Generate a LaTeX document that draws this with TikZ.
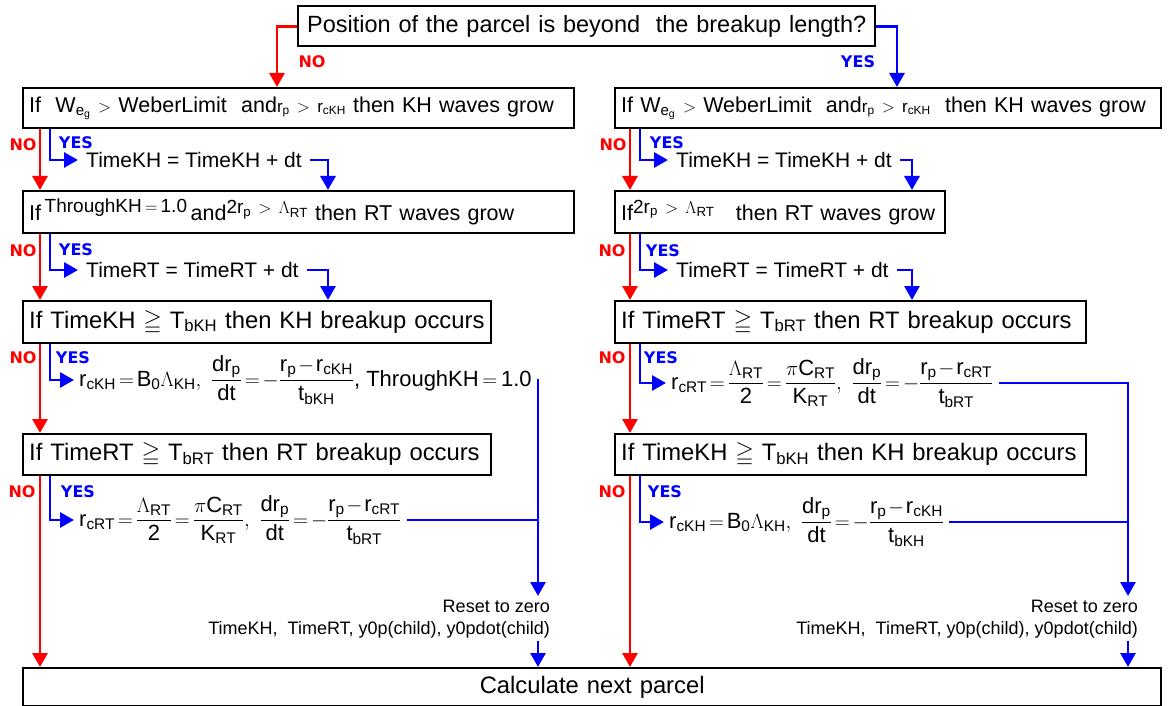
\documentclass[tikz,border=0pt]{standalone}
\usepackage{amsmath,amssymb}
\usepackage{fontspec}
\setmainfont{Liberation Sans}
\newfontfamily\lblfont{DejaVu Sans}
\usetikzlibrary{arrows.meta,calc}
\newcommand{\tx}[1]{\text{#1}}
\newcommand{\tightmath}{\thickmuskip=2.5mu\relax\medmuskip=1.5mu\relax}
\begin{document}
\begin{tikzpicture}[x=1pt,y=-1pt,
  box/.style={draw, line width=2.4pt, fill=white, inner xsep=6pt, inner ysep=0pt,
    anchor=north west, align=left},
  topf/.style={font=\fontsize{23.5}{28}\selectfont},
  bigf/.style={font=\fontsize{23.8}{28}\selectfont},
  midf/.style={font=\fontsize{21.5}{26}\selectfont},
  noarr/.style={red, line width=2.8pt, -{Triangle[length=14pt,width=15pt]}},
  yesarr/.style={blue, line width=2.8pt, -{Triangle[length=14pt,width=15pt]}},
  yesline/.style={blue, line width=2.8pt},
  nolbl/.style={red, inner sep=0pt, font=\lblfont\bfseries\fontsize{16}{16}\selectfont},
  yeslbl/.style={blue, inner sep=0pt, font=\lblfont\bfseries\fontsize{16}{16}\selectfont},
  tm/.style={anchor=west, inner xsep=8pt, inner ysep=2pt, font=\fontsize{21}{25}\selectfont},
  eq/.style={anchor=west, inner xsep=5pt, inner ysep=2pt,
    font=\fontsize{22}{26}\selectfont\tightmath},
  rst/.style={anchor=north east, align=right, inner sep=2pt, font=\fontsize{18}{22}\selectfont}
]
\useasboundingbox (0,0) rectangle (1168,706);

% helper x-positions
\coordinate (cNO) at (277,0);
\coordinate (cYES) at (897,0);
\coordinate (xLn) at (40,0);
\coordinate (xLy) at (50,0);
\coordinate (xRn) at (630,0);
\coordinate (xRy) at (640,0);
\coordinate (bL) at (328,0);
\coordinate (bR) at (912,0);
\coordinate (J1) at (538,596);
\coordinate (J2) at (1128,596);

% boxes
\node[box, topf, minimum height=40pt, text width=565pt, align=center] (top) at (297,5)
  {\mbox{Position of the parcel is beyond\ \ the breakup length?}};

\node[box, midf, minimum height=40pt, text width=539pt] (L1) at (22,87)
  {\mbox{If\ \ W\textsubscript{e\textsubscript{g}} {\fontsize{16}{16}\selectfont$>$} WeberLimit\ \ and{\fontsize{17}{17}\selectfont r\textsubscript{p} $>$ r\textsubscript{cKH}} then KH waves grow}};
\node[box, midf, minimum height=40pt, text width=534pt] (R1) at (614,87)
  {\mbox{If W\textsubscript{e\textsubscript{g}} {\fontsize{16}{16}\selectfont$>$} WeberLimit\ \ and{\fontsize{17}{17}\selectfont r\textsubscript{p} $>$ r\textsubscript{cKH}}\ \ then KH waves grow}};

\node[box, midf, minimum height=42pt, text width=539pt] (L2) at (22,190)
  {\mbox{If\,\raisebox{8pt}{\fontsize{19}{19}\selectfont ThroughKH\,$=$\,1.0}\,and\raisebox{7pt}{\fontsize{19}{19}\selectfont 2r\textsubscript{p} $>$ $\Lambda$\textsubscript{RT}} then RT waves grow}};
\node[box, midf, minimum height=42pt, text width=318pt] (R2) at (614,190)
  {\mbox{If\raisebox{7pt}{\fontsize{19}{19}\selectfont 2r\textsubscript{p} $>$ $\Lambda$\textsubscript{RT}}\ \ \ then RT waves grow}};

\node[box, bigf, minimum height=42pt, text width=456pt] (L3) at (22,300)
  {\mbox{If TimeKH $\geqq$ T\textsubscript{bKH} then KH breakup occurs}};
\node[box, bigf, minimum height=42pt, text width=459pt] (R3) at (614,300)
  {\mbox{If TimeRT $\geqq$ T\textsubscript{bRT} then RT breakup occurs}};

\node[box, bigf, minimum height=41pt, text width=456pt] (L4) at (22,433)
  {\mbox{If TimeRT $\geqq$ T\textsubscript{bRT} then RT breakup occurs}};
\node[box, bigf, minimum height=41pt, text width=459pt] (R4) at (614,433)
  {\mbox{If TimeKH $\geqq$ T\textsubscript{bKH} then KH breakup occurs}};

\node[box, bigf, minimum height=38pt, text width=1126pt, align=center] (Bot) at (22,667)
  {Calculate next parcel};

% intermediate texts
\node[tm] (K1) at (78,160) {TimeKH = TimeKH + dt};
\node[tm] (K2) at (78,270) {TimeRT = TimeRT + dt};
\node[tm] (K1R) at (668,160) {TimeKH = TimeKH + dt};
\node[tm] (K2R) at (668,270) {TimeRT = TimeRT + dt};

\node[eq] (E3) at (74,380)
  {$\tx{r}_{\tx{cKH}} = \tx{B}_{\tx{0}}\Lambda_{\tx{KH}},\ \dfrac{\tx{dr}_{\tx{p}}}{\tx{dt}} = -\dfrac{\tx{r}_{\tx{p}} - \tx{r}_{\tx{cKH}}}{\tx{t}_{\tx{bKH}}}$, ThroughKH\,$=$\,1.0};
\node[eq] (E3R) at (666,383)
  {$\tx{r}_{\tx{cRT}} = \dfrac{\Lambda_{\tx{RT}}}{\tx{2}} = \dfrac{\pi\tx{C}_{\tx{RT}}}{\tx{K}_{\tx{RT}}},\ \dfrac{\tx{dr}_{\tx{p}}}{\tx{dt}} = -\dfrac{\tx{r}_{\tx{p}} - \tx{r}_{\tx{cRT}}}{\tx{t}_{\tx{bRT}}}$};
\node[eq] (E4) at (74,520)
  {$\tx{r}_{\tx{cRT}} = \dfrac{\Lambda_{\tx{RT}}}{\tx{2}} = \dfrac{\pi\tx{C}_{\tx{RT}}}{\tx{K}_{\tx{RT}}},\ \dfrac{\tx{dr}_{\tx{p}}}{\tx{dt}} = -\dfrac{\tx{r}_{\tx{p}} - \tx{r}_{\tx{cRT}}}{\tx{t}_{\tx{bRT}}}$};
\node[eq] (E4R) at (664,522)
  {$\tx{r}_{\tx{cKH}} = \tx{B}_{\tx{0}}\Lambda_{\tx{KH}},\ \dfrac{\tx{dr}_{\tx{p}}}{\tx{dt}} = -\dfrac{\tx{r}_{\tx{p}} - \tx{r}_{\tx{cKH}}}{\tx{t}_{\tx{bKH}}}$};

\node[rst] (RS) at (552,598) {Reset to zero\\TimeKH,\ \ TimeRT, y0p(child), y0pdot(child)};
\node[rst] (RS2) at (1140,598) {Reset to zero\\TimeKH,\ \ TimeRT, y0p(child), y0pdot(child)};

% labels
\node[nolbl] (tNO) at (312,62) {NO};
\node[yeslbl] (tYES) at (858,62) {YES};
\node[nolbl] (n1) at (23,145) {NO};
\node[yeslbl] (y1) at (76,143) {YES};
\node[nolbl] (n2) at (23,251) {NO};
\node[yeslbl] (y2) at (76,250) {YES};
\node[nolbl] (n3) at (23,358) {NO};
\node[yeslbl] (y3) at (73,358) {YES};
\node[nolbl] (n4) at (22,492) {NO};
\node[yeslbl] (y4) at (78,492) {YES};
\node[nolbl] (n1r) at (613,145) {NO};
\node[yeslbl] (y1r) at (667,143) {YES};
\node[nolbl] (n2r) at (612,251) {NO};
\node[yeslbl] (y2r) at (663,251) {YES};
\node[nolbl] (n3r) at (612,358) {NO};
\node[yeslbl] (y3r) at (661,358) {YES};
\node[nolbl] (n4r) at (612,492) {NO};
\node[yeslbl] (y4r) at (665,492) {YES};

% top branches
\draw[noarr] (top.west) -| (L1.north -| cNO);
\draw[yesarr] (top.east) -| (R1.north -| cYES);

% left column
\draw[noarr] (L1.south -| xLn) -- (L2.north -| xLn);
\draw[yesarr] (L1.south -| xLy) |- (K1.west);
\draw[yesarr] (K1.east) -| (L2.north -| bL);
\draw[noarr] (L2.south -| xLn) -- (L3.north -| xLn);
\draw[yesarr] (L2.south -| xLy) |- (K2.west);
\draw[yesarr] (K2.east) -| (L3.north -| bL);
\draw[noarr] (L3.south -| xLn) -- (L4.north -| xLn);
\draw[yesarr] (L3.south -| xLy) |- (E3.west);
\draw[yesarr] (E3.east) -| (J1);
\draw[noarr] (L4.south -| xLn) -- (Bot.north -| xLn);
\draw[yesarr] (L4.south -| xLy) |- (E4.west);
\draw[yesline] (E4.east) -- (E4.east -| J1);
\draw[yesarr] (RS.south -| J1) -- (Bot.north -| J1);

% right column
\draw[noarr] (R1.south -| xRn) -- (R2.north -| xRn);
\draw[yesarr] (R1.south -| xRy) |- (K1R.west);
\draw[yesarr] (K1R.east) -| (R2.north -| bR);
\draw[noarr] (R2.south -| xRn) -- (R3.north -| xRn);
\draw[yesarr] (R2.south -| xRy) |- (K2R.west);
\draw[yesarr] (K2R.east) -| (R3.north -| bR);
\draw[noarr] (R3.south -| xRn) -- (R4.north -| xRn);
\draw[yesarr] (R3.south -| xRy) |- (E3R.west);
\draw[yesarr] (E3R.east) -| (J2);
\draw[noarr] (R4.south -| xRn) -- (Bot.north -| xRn);
\draw[yesarr] (R4.south -| xRy) |- (E4R.west);
\draw[yesline] (E4R.east) -- (E4R.east -| J2);
\draw[yesarr] (RS2.south -| J2) -- (Bot.north -| J2);
\end{tikzpicture}
\end{document}
